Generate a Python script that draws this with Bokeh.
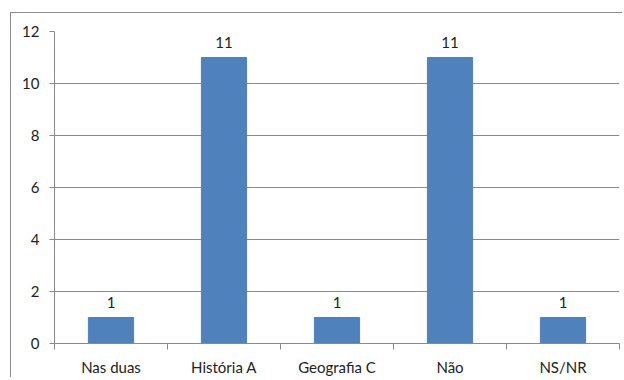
from bokeh.plotting import figure
from bokeh.models import ColumnDataSource, FixedTicker, LabelSet, Range1d
from bokeh.core.properties import value
from bokeh.embed import file_html
from bokeh.resources import INLINE

# Survey answers and their counts
categories = ["Nas duas", "História A", "Geografia C", "Não", "NS/NR"]
counts = [1, 11, 1, 11, 1]
y_ticks = [0, 2, 4, 6, 8, 10, 12]

FONT = "Lato"
GRAY = "#8a8a8a"
TEXT = "#222222"

centers = [i + 0.5 for i in range(len(categories))]
source = ColumnDataSource(dict(x=centers, top=counts,
                               label=[str(c) for c in counts]))

p = figure(width=612, height=365, output_backend="svg", toolbar_location=None,
           x_range=Range1d(0, len(categories)), y_range=Range1d(0, 12),
           min_border_left=43, min_border_right=4, min_border_top=18,
           min_border_bottom=35)
p.outline_line_color = None
p.background_fill_color = "white"
p.border_fill_color = "white"
# chart area border, open at right and bottom where the page cuts it off
p.margin = (12, 0, 0, 10)
p.styles = {"border-left": "1px solid #8c8c8c", "border-top": "1px solid #8c8c8c"}

p.vbar(x="x", top="top", width=0.4, source=source,
       fill_color="#4f81bd", line_color="#4f81bd")

p.add_layout(LabelSet(x="x", y="top", text="label", source=source,
                      text_align="center", text_baseline="bottom", y_offset=10,
                      text_font=value(FONT), text_font_size="15px",
                      text_color=TEXT))

# x axis: names at bar centres, small tick marks between categories
xa = p.xaxis[0]
xa.ticker = FixedTicker(ticks=centers,
                        minor_ticks=list(range(len(categories) + 1)))
xa.major_label_overrides = {c: name for c, name in zip(centers, categories)}
xa.major_tick_line_color = None
xa.major_tick_out = 0
xa.minor_tick_line_color = GRAY
xa.minor_tick_out = 6
xa.minor_tick_in = 0
xa.axis_line_color = GRAY
xa.major_label_standoff = 8
xa.major_label_text_font = FONT
xa.major_label_text_font_size = "15px"
xa.major_label_text_color = TEXT

ya = p.yaxis[0]
ya.ticker = FixedTicker(ticks=y_ticks)
ya.axis_line_color = GRAY
ya.major_tick_line_color = GRAY
ya.major_tick_out = 5
ya.major_tick_in = 0
ya.minor_tick_line_color = None
ya.major_label_standoff = 10
ya.major_label_text_font = FONT
ya.major_label_text_font_size = "15px"
ya.major_label_text_color = TEXT

p.xgrid.grid_line_color = None
p.ygrid.grid_line_color = GRAY
p.ygrid.ticker = FixedTicker(ticks=y_ticks)

open("out.html", "w").write(file_html(p, INLINE))
